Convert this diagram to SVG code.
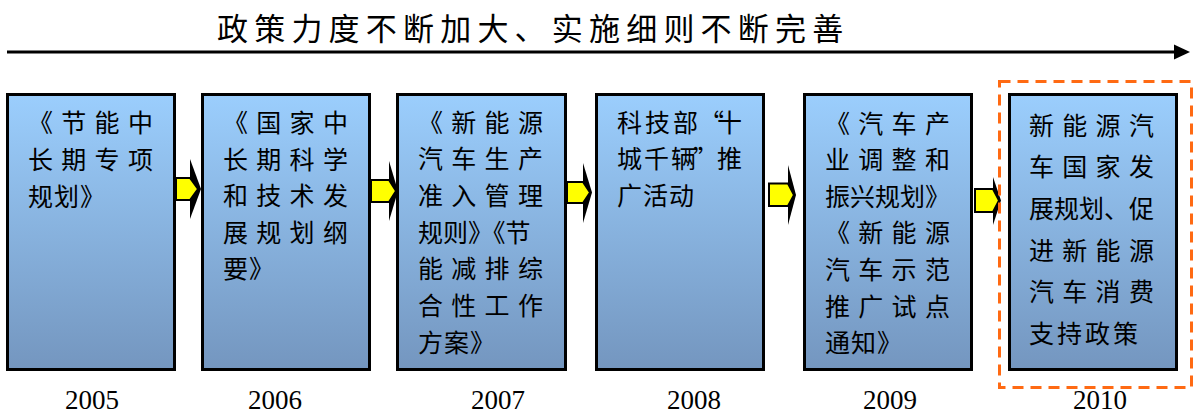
<svg xmlns="http://www.w3.org/2000/svg" width="1193" height="417" viewBox="0 0 1193 417">
<defs>
<linearGradient id="bg" x1="0" y1="0" x2="0" y2="1">
<stop offset="0" stop-color="#9BCEFD"/>
<stop offset="1" stop-color="#7496BF"/>
</linearGradient>
<style>
.box{fill:url(#bg);stroke:#000;stroke-width:3}
.t{font-family:"Noto Sans CJK SC","Noto Sans CJK JP",sans-serif;font-size:25px;fill:#000}
.title{font-family:"Noto Sans CJK SC","Noto Sans CJK JP",sans-serif;font-size:31px;fill:#000;letter-spacing:6.2px}
.yr{font-family:"Liberation Serif",serif;font-size:27px;fill:#000;text-anchor:middle}
.j{letter-spacing:8.3px}
.k{letter-spacing:1px}
.head{fill:#000}
.shaft{fill:#FFFF00;stroke:#000;stroke-width:2;stroke-linejoin:miter}
</style>
</defs>
<rect width="1193" height="417" fill="#fff"/>
<text class="title" x="217" y="40">政策力度不断加大、实施细则不断完善</text>
<g id="connectors">
<line x1="7" y1="52" x2="1176" y2="52" stroke="#000" stroke-width="3"/>
<polygon points="1174,44.5 1190,52 1174,59.5" fill="#000"/>
<polygon class="head" points="190,159 201,189 190,219"/>
<polygon class="shaft" points="176,178 190,178 198,189 190,200 176,200"/>
<polygon class="head" points="389,161 398,191 389,221"/>
<polygon class="shaft" points="371,180 389,180 396,191 389,202 371,202"/>
<polygon class="head" points="583,163 592,192.5 583,223"/>
<polygon class="shaft" points="567,182 583,182 590,192.5 583,203 567,203"/>
<polygon class="head" points="788,165 796,195 788,225"/>
<polygon class="shaft" points="769,183.5 788,183.5 794,195 788,206 769,206"/>
<polygon class="head" points="993,177 1001,200.5 993,225"/>
<polygon class="shaft" points="975,189 993,189 999,200.5 993,212 975,212"/>
</g>
<rect x="999.5" y="81.5" width="192" height="306" fill="none" stroke="#FF6A13" stroke-width="3" stroke-dasharray="11 7"/>
<g id="n2005">
<rect class="box" x="7.5" y="94.5" width="167" height="275"/>
<text class="t j" x="28" y="132">《节能中</text>
<text class="t j" x="28" y="169">长期专项</text>
<text class="t k" x="28" y="206">规划》</text>
<text class="yr" x="92" y="409">2005</text>
</g>
<g id="n2006">
<rect class="box" x="202.5" y="94.5" width="167" height="275"/>
<text class="t j" x="223" y="132">《国家中</text>
<text class="t j" x="223" y="168.6">长期科学</text>
<text class="t j" x="223" y="205.2">和技术发</text>
<text class="t j" x="223" y="241.8">展规划纲</text>
<text class="t k" x="223" y="278.4">要》</text>
<text class="yr" x="275" y="409">2006</text>
</g>
<g id="n2007">
<rect class="box" x="397.5" y="94.5" width="168" height="275"/>
<text class="t j" x="418" y="131.5">《新能源</text>
<text class="t j" x="418" y="168.2">汽车生产</text>
<text class="t j" x="418" y="204.9">准入管理</text>
<text class="t" x="418" y="241.6">规则》《节</text>
<text class="t j" x="418" y="278.3">能减排综</text>
<text class="t j" x="418" y="315">合性工作</text>
<text class="t k" x="418" y="351.7">方案》</text>
<text class="yr" x="498" y="409">2007</text>
</g>
<g id="n2008">
<rect class="box" x="596.5" y="94.5" width="167" height="275"/>
<text class="t" x="617 645 673 699 717" y="131.5">科技部“十</text>
<text class="t" x="617 644 671 693 717" y="168">城千辆”推</text>
<text class="t k" x="617" y="205">广活动</text>
<text class="yr" x="694" y="409">2008</text>
</g>
<g id="n2009">
<rect class="box" x="804.5" y="94.5" width="167" height="275"/>
<text class="t j" x="825" y="132.5">《汽车产</text>
<text class="t j" x="825" y="169.1">业调整和</text>
<text class="t" x="825" y="205.7">振兴规划》</text>
<text class="t j" x="825" y="242.3">《新能源</text>
<text class="t j" x="825" y="278.9">汽车示范</text>
<text class="t j" x="825" y="315.5">推广试点</text>
<text class="t k" x="825" y="352.1">通知》</text>
<text class="yr" x="890" y="409">2009</text>
</g>
<g id="n2010">
<rect class="box" x="1009.5" y="94.5" width="167" height="275"/>
<text class="t j" x="1029" y="134.5">新能源汽</text>
<text class="t j" x="1029" y="176.2">车国家发</text>
<text class="t" x="1029" y="217.9">展规划、促</text>
<text class="t j" x="1029" y="259.6">进新能源</text>
<text class="t j" x="1029" y="301.3">汽车消费</text>
<text class="t" x="1029" y="343" style="letter-spacing:3px">支持政策</text>
<text class="yr" x="1100" y="409">2010</text>
</g>
</svg>
